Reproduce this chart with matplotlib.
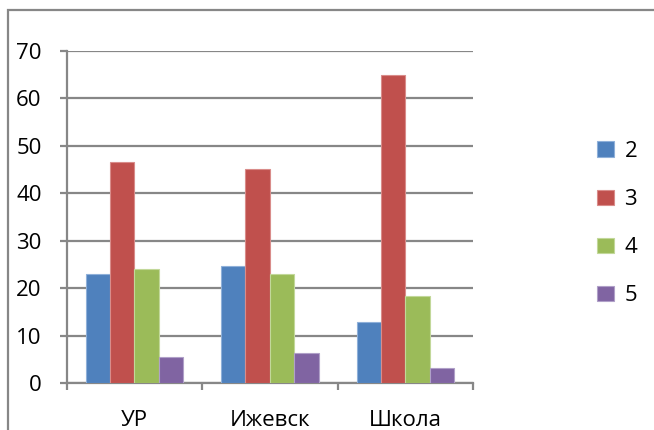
import numpy as np
import matplotlib
matplotlib.use("Agg")
import matplotlib.pyplot as plt
from matplotlib.patches import Rectangle

categories = ["УР", "Ижевск", "Школа"]
series = ["2", "3", "4", "5"]
vals_2 = [23.0, 24.7, 13.0]
vals_3 = [46.6, 45.0, 64.8]
vals_4 = [24.0, 23.0, 18.4]
vals_5 = [5.5, 6.3, 3.3]
colors = ["#4F81BD", "#C0504D", "#9BBB59", "#8064A2"]
edges = ["#8FB0D9", "#D98C8A", "#C2D89A", "#B0A0C8"]
yticks = [0, 10, 20, 30, 40, 50, 60, 70]

plt.rcParams["font.family"] = ["Open Sans", "DejaVu Sans"]
GRAY = "#878787"

fig = plt.figure(figsize=(6.54, 4.30), dpi=100)
# outer chart frame (top and left edges visible)
fig.patches.append(Rectangle((8/654, -0.1), 1.2, (430-10)/430 + 0.1, transform=fig.transFigure,
                             fill=False, edgecolor=GRAY, lw=1.6))
ax = fig.add_axes([66.7/654, (430-383.3)/430, (473-66.7)/654, (383.3-50.7)/430])

x = np.arange(len(categories))
w = 0.18
for k, (vals, c, ec) in enumerate(zip([vals_2, vals_3, vals_4, vals_5], colors, edges)):
    ax.bar(x + (k - 1.5)*w, vals, w, color=c, edgecolor=ec, lw=0.8, label=series[k], zorder=3)

ax.set_xlim(-0.5, 2.5)
ax.set_ylim(0, 70)
ax.set_yticks(yticks)
ax.yaxis.grid(True, color=GRAY, lw=1.6, zorder=0)
ax.set_axisbelow(True)
for s in ["top", "right"]:
    ax.spines[s].set_visible(False)
for s in ["left", "bottom"]:
    ax.spines[s].set_color(GRAY); ax.spines[s].set_linewidth(1.6)
ax.tick_params(axis="y", length=5, width=1.6, color=GRAY, pad=13, labelsize=16)
ax.set_xticks([-0.5, 0.5, 1.5, 2.5], minor=False)
ax.set_xticklabels([])
ax.set_xticks(x, minor=True)
ax.set_xticklabels(categories, minor=True)
ax.tick_params(axis="x", which="major", length=5, width=1.6, color=GRAY)
ax.tick_params(axis="x", which="minor", length=0, pad=19, labelsize=16)

ax.legend(loc="center left", bbox_to_anchor=(1.255, 0.48), frameon=False, fontsize=16,
          handlelength=0.8, handleheight=0.7, labelspacing=1.22, handletextpad=0.45)

fig.savefig("out.png", dpi=100)
